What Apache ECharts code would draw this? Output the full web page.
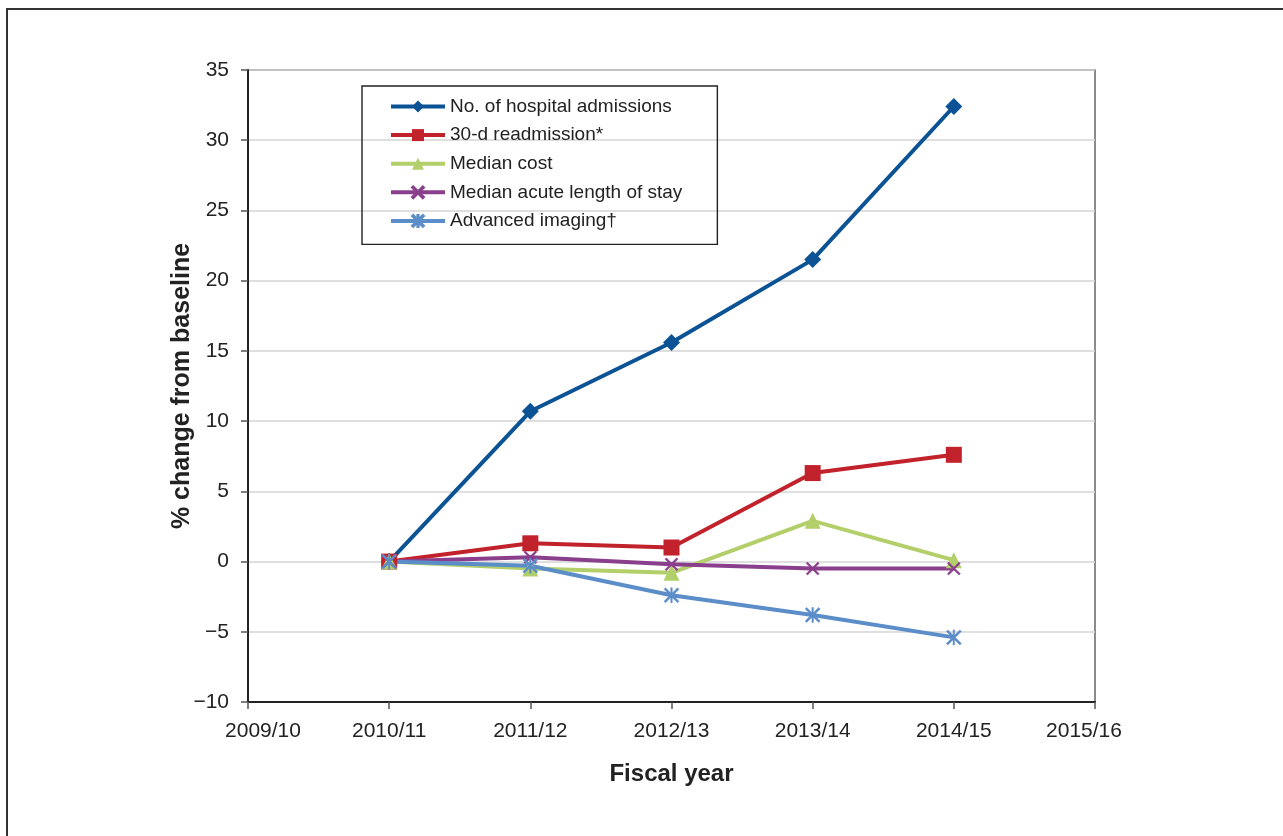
<!DOCTYPE html>
<html>
<head>
<meta charset="utf-8">
<script src="https://cdn.jsdelivr.net/npm/echarts@6/dist/echarts.min.js"></script>
<style>
html,body{margin:0;padding:0;background:#fff;}
#chart{width:1283px;height:836px;}
</style>
</head>
<body>
<div id="chart"></div>
<script>
var categories = ['2009/10','2010/11','2011/12','2012/13','2013/14','2014/15','2015/16'];
var admissions  = [null, 0, 10.7, 15.6, 21.5, 32.4, null];
var readmission = [null, 0, 1.3, 1.0, 6.3, 7.6, null];
var medianCost  = [null, 0, -0.5, -0.8, 2.9, 0.1, null];
var lengthOfStay= [null, 0, 0.3, -0.2, -0.5, -0.5, null];
var imaging     = [null, 0, -0.3, -2.4, -3.8, -5.4, null];
var seriesNames = ['No. of hospital admissions','30-d readmission*','Median cost','Median acute length of stay','Advanced imaging\u2020'];

var xPath = 'path://M0,1L1,0L5,4L9,0L10,1L6,5L10,9L9,10L5,6L1,10L0,9L4,5Z';
var starPath = 'path://M0,1L1,0L5,4L9,0L10,1L6,5L10,9L9,10L5,6L1,10L0,9L4,5Z M4.5,0L5.5,0L5.5,10L4.5,10Z';

var chart = echarts.init(document.getElementById('chart'));
var font = 'Liberation Sans, Arial, sans-serif';
function mk(name, data, color, symbol, size) {
  return {
    name: name, type: 'line', data: data, color: color,
    symbol: symbol, symbolSize: size, showAllSymbol: true,
    lineStyle: {width: 4, color: color},
    itemStyle: {color: color, borderColor: color, borderWidth: (symbol.indexOf('path')===0 ? 0.5 : 0)},
    connectNulls: false, z: 3
  };
}
chart.setOption({
  animation: false,
  backgroundColor: '#fff',
  graphic: [{
    type: 'rect', shape: {x: 7, y: 9, width: 1300, height: 900},
    style: {fill: 'none', stroke: '#333', lineWidth: 2}, silent: true, z: -10
  }],
  grid: {left: 248, right: 188, top: 70, bottom: 134, show: true, borderColor: '#666', borderWidth: 1.5, backgroundColor: 'transparent'},
  legend: {
    orient: 'vertical', left: 362, top: 86,
    padding: [11, 35, 14, 27],
    itemWidth: 54, itemHeight: 15, itemGap: 9.6,
    borderColor: '#222', borderWidth: 1.4,
    lineStyle: {width: 4},
    textStyle: {fontFamily: font, fontSize: 19, color: '#222'},
    data: seriesNames
  },
  xAxis: {
    type: 'category', data: categories, boundaryGap: false,
    name: 'Fiscal year', nameLocation: 'middle', nameGap: 60,
    nameMoveOverlap: false,
    nameTextStyle: {fontFamily: font, fontSize: 24, fontWeight: 'bold', color: '#222'},
    axisLine: {onZero: false, lineStyle: {color: '#222', width: 2}},
    axisTick: {show: true, length: 7, alignWithLabel: true, lineStyle: {color: '#555', width: 1.5}},
    axisLabel: {fontFamily: font, fontSize: 21, color: '#222', margin: 19, interval: 0,
      formatter: function(v, i){
        if (i === 0) return '{first|' + v + '}';
        if (i === categories.length - 1) return '{last|' + v + '}';
        return v;
      },
      rich: {
        first: {fontFamily: font, fontSize: 21, color: '#222', padding: [0, 0, 0, 30]},
        last: {fontFamily: font, fontSize: 21, color: '#222', padding: [0, 22, 0, 0]}
      }
    },
    splitLine: {show: false}
  },
  yAxis: {
    type: 'value', min: -10, max: 35, interval: 5,
    name: '% change from baseline', nameLocation: 'middle', nameGap: 53, nameRotate: 90,
    nameMoveOverlap: false,
    nameTextStyle: {fontFamily: font, fontSize: 25, fontWeight: 'bold', color: '#222'},
    axisLine: {show: true, lineStyle: {color: '#222', width: 2}},
    axisTick: {show: true, length: 7, lineStyle: {color: '#555', width: 1.5}},
    axisLabel: {fontFamily: font, fontSize: 21, color: '#222', margin: 19,
      formatter: function(v){ return String(v).replace('-', '\u2212'); }},
    splitLine: {show: true, lineStyle: {color: '#d4d4d4', width: 1.5}}
  },
  series: [
    mk(seriesNames[0], admissions, '#0b5394', 'diamond', 17),
    mk(seriesNames[1], readmission, '#c1222b', 'rect', 16),
    mk(seriesNames[2], medianCost, '#b2cf6a', 'triangle', 16),
    mk(seriesNames[3], lengthOfStay, '#8a3f8c', xPath, 13),
    mk(seriesNames[4], imaging, '#5b8dc9', starPath, 15)
  ]
});
</script>
</body>
</html>
